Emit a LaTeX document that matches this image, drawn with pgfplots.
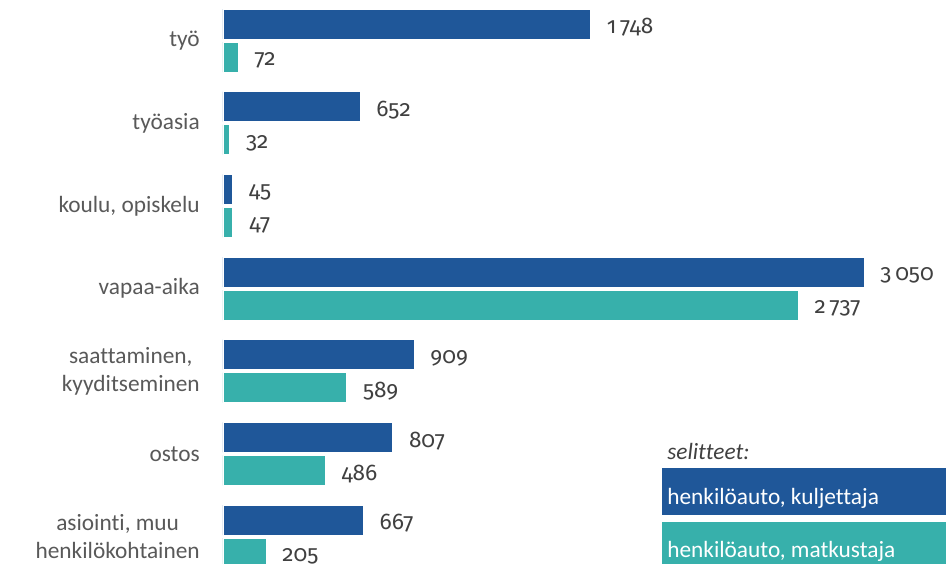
\documentclass[border=0pt]{standalone}
\usepackage{pgfplots}
\pgfplotsset{compat=1.18}
\usepackage{fontspec}
\setmainfont{Carlito}[Ligatures={NoCommon}]
\newfontfamily\numfont{Fira Sans}[Numbers=OldStyle]
\definecolor{cdark}{RGB}{31,87,153}
\definecolor{cteal}{RGB}{55,176,171}
\definecolor{lblgray}{RGB}{89,89,89}
\definecolor{numgray}{RGB}{64,64,64}
\newcommand{\cf}{\fontsize{17.5}{21}\selectfont}
\newcommand{\nf}{\numfont\fontsize{17}{20}\selectfont}
\begin{document}
\begin{tikzpicture}
\begin{axis}[
  scale only axis, width=542.25pt, height=423pt,
  xmin=0, xmax=3440, ymin=-0.332, ymax=6.49,
  xbar, bar width=22.5pt,
  axis line style={draw=none},
  xtick=\empty,
  ytick={0,1,2,3,4,5,6},
  yticklabels={{asiointi, muu\\henkilökohtainen},ostos,{saattaminen,\\kyyditseminen},vapaa-aika,{koulu, opiskelu},työasia,työ},
  major tick length=0pt,
  yticklabel style={align=center, font=\cf, text=lblgray, inner sep=0pt, xshift=-17.25pt},
  nodes near coords, point meta=explicit symbolic,
  every node near coord/.append style={font=\nf, text=numgray, anchor=west, inner sep=0pt, xshift=12pt, yshift=-2.5pt},
  clip=true,
]
\addplot[fill=cdark, draw=white, line width=0.6pt, bar shift=12.375pt] coordinates {
  (1748,6) [1\,748]
  (652,5) [652]
  (45,4) [45]
  (3050,3) [3\,050]
  (909,2) [909]
  (807,1) [807]
  (667,0) [667]
};
\addplot[fill=cteal, draw=white, line width=0.6pt, bar shift=-12.375pt] coordinates {
  (72,6) [72]
  (32,5) [32]
  (47,4) [47]
  (2737,3) [2\,737]
  (589,2) [589]
  (486,1) [486]
  (205,0) [205]
};
\end{axis}
\begin{scope}[shift={(current axis.south west)}, x=0.75pt, y=0.75pt]
  \fill[cdark] (439,49) rectangle (760,96);
  \fill[cteal] (439,-30) rectangle (760,42);
  \node[anchor=base west, inner sep=0pt, font=\cf\itshape, text=numgray] at (444,104) {selitteet:};
  \node[anchor=base west, inner sep=0pt, font=\cf, text=white] at (444,59) {henkilöauto, kuljettaja};
  \node[anchor=base west, inner sep=0pt, font=\cf, text=white] at (444,7) {henkilöauto, matkustaja};
\end{scope}
\pgfresetboundingbox
\path[use as bounding box] ([xshift=-167.25pt]current axis.south west) rectangle (current axis.north east);
\end{tikzpicture}
\end{document}
